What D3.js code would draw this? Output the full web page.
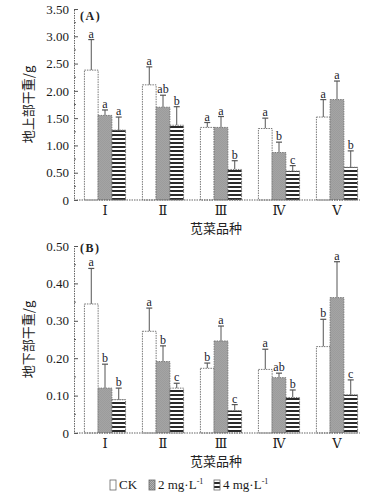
<!DOCTYPE html>
<html>
<head>
<meta charset="utf-8">
<script src="https://cdn.jsdelivr.net/npm/d3@7"></script>
<style>
  body { margin: 0; background: #fff; }
  svg { display: block; }
</style>
</head>
<body>
<div id="graph"></div>
<script>
const width = 375
const height = 493

// data
const groups = ["Ⅰ", "Ⅱ", "Ⅲ", "Ⅳ", "Ⅴ"]
const series = ["CK", "2 mg", "4 mg"]

const shootMean = [
    [2.38, 1.55, 1.28],
    [2.11, 1.70, 1.37],
    [1.33, 1.33, 0.56],
    [1.31, 0.87, 0.53],
    [1.52, 1.84, 0.60]
]
const shootErr = [
    [0.56, 0.10, 0.24],
    [0.33, 0.22, 0.34],
    [0.09, 0.20, 0.16],
    [0.19, 0.19, 0.10],
    [0.32, 0.34, 0.30]
]
const shootLetters = [
    ["a", "a", "a"],
    ["a", "ab", "b"],
    ["a", "a", "b"],
    ["a", "b", "c"],
    ["a", "a", "b"]
]

const rootMean = [
    [0.345, 0.120, 0.089],
    [0.272, 0.191, 0.120],
    [0.173, 0.246, 0.060],
    [0.170, 0.148, 0.095],
    [0.231, 0.362, 0.102]
]
const rootErr = [
    [0.095, 0.064, 0.031],
    [0.062, 0.042, 0.013],
    [0.014, 0.040, 0.016],
    [0.054, 0.012, 0.020],
    [0.073, 0.096, 0.040]
]
const rootLetters = [
    ["a", "b", "b"],
    ["a", "b", "c"],
    ["b", "a", "c"],
    ["a", "ab", "b"],
    ["b", "a", "c"]
]

const legendLabels = ["CK", "2 mg·L", "4 mg·L"]

const serif = "'Liberation Serif', 'DejaVu Serif', serif"
const cjk = "'Noto Sans CJK SC', sans-serif"

const svg = d3.select("#graph").append("svg")
    .attr("width", width)
    .attr("height", height)

// patterns
const defs = svg.append("defs")

const hatch = defs.append("pattern")
    .attr("id", "hatch")
    .attr("width", 2)
    .attr("height", 2)
    .attr("patternUnits", "userSpaceOnUse")
hatch.append("rect").attr("width", 2).attr("height", 2).attr("fill", "#b4b4b4")
hatch.append("rect").attr("width", 1).attr("height", 1).attr("fill", "#8c8c8c")
hatch.append("rect").attr("x", 1).attr("y", 1).attr("width", 1).attr("height", 1).attr("fill", "#8c8c8c")

const stripes = defs.append("pattern")
    .attr("id", "stripes")
    .attr("width", 4)
    .attr("height", 4)
    .attr("patternUnits", "userSpaceOnUse")
stripes.append("rect").attr("width", 4).attr("height", 4).attr("fill", "#fff")
stripes.append("rect").attr("y", 2).attr("width", 4).attr("height", 2).attr("fill", "#2a2a2a")

const fills = ["#fff", "url(#hatch)", "url(#stripes)"]

const x = d3.scaleBand()
    .domain(groups)
    .range([76, 366])
    .paddingInner(0.29)
    .paddingOuter(0.145)

const xs = d3.scaleBand()
    .domain(series)
    .range([0, x.bandwidth()])

function panel(opt) {
    const y = d3.scaleLinear()
        .domain([0, opt.max])
        .range([opt.bottom, opt.top])

    const g = svg.append("g")

    // bars
    const grp = g.selectAll(".grp")
        .data(groups)
        .join("g")
        .attr("transform", d => `translate(${x(d)},0)`)

    grp.each(function(gname, gi) {
        const sel = d3.select(this)
        series.forEach((s, si) => {
            const v = opt.mean[gi][si]
            const e = opt.err[gi][si]
            const cx = xs(s) + xs.bandwidth() / 2

            // error bar
            sel.append("line")
                .attr("x1", cx).attr("x2", cx)
                .attr("y1", y(v)).attr("y2", y(v + e))
                .attr("stroke", "#555")
                .attr("stroke-width", 1)
            sel.append("line")
                .attr("x1", cx - 3).attr("x2", cx + 3)
                .attr("y1", y(v + e)).attr("y2", y(v + e))
                .attr("stroke", "#555")
                .attr("stroke-width", 1.2)

            sel.append("rect")
                .attr("x", xs(s))
                .attr("y", y(v))
                .attr("width", xs.bandwidth())
                .attr("height", y(0) - y(v))
                .attr("fill", fills[si])
                .attr("stroke", "#777")
                .attr("stroke-width", 1)
                .attr("stroke-dasharray", "1.5,1")

            sel.append("text")
                .attr("x", cx)
                .attr("y", y(v + e) - 2)
                .attr("text-anchor", "middle")
                .attr("font-family", serif)
                .attr("font-size", 12)
                .attr("fill", "#1c1c2c")
                .text(opt.letters[gi][si])
        })
    })

    // y axis
    const yAxis = g.append("g")
        .attr("transform", `translate(74,0)`)
        .call(d3.axisLeft(y).tickValues(opt.ticks).tickSize(-4).tickPadding(5)
            .tickFormat(d => d === 0 ? "0" : d3.format(".2f")(d)))
    yAxis.selectAll(".tick line").attr("stroke", "#555")
    yAxis.select(".domain").attr("stroke", "#666").attr("stroke-dasharray", "1.5,1")
    yAxis.selectAll("text")
        .attr("font-family", serif)
        .attr("font-size", 13)
        .attr("fill", "#1a1a1a")

    // minor ticks
    g.append("g")
        .selectAll("line")
        .data(opt.minor)
        .join("line")
        .attr("x1", 74).attr("x2", 76)
        .attr("y1", d => y(d)).attr("y2", d => y(d))
        .attr("stroke", "#666")

    // x axis
    g.append("line")
        .attr("x1", 74).attr("x2", 360)
        .attr("y1", y(0)).attr("y2", y(0))
        .attr("stroke", "#666")
        .attr("stroke-width", 1.2)
        .attr("stroke-dasharray", "1.5,1")

    g.append("g")
        .selectAll("text")
        .data(groups)
        .join("text")
        .attr("x", d => x(d) + x.bandwidth() / 2)
        .attr("y", y(0) + 15)
        .attr("text-anchor", "middle")
        .attr("font-family", serif)
        .attr("font-size", 13)
        .attr("fill", "#1a1a1a")
        .text(d => d)

    // x title
    g.append("text")
        .attr("x", 216)
        .attr("y", y(0) + 33)
        .attr("text-anchor", "middle")
        .attr("font-family", cjk)
        .attr("font-size", 13)
        .attr("fill", "#222")
        .text("苋菜品种")

    // y title
    g.append("text")
        .attr("transform", `translate(33,${(opt.top + opt.bottom) / 2}) rotate(-90)`)
        .attr("text-anchor", "middle")
        .attr("font-family", cjk)
        .attr("font-size", 13)
        .attr("fill", "#222")
        .text(opt.ytitle)

    // panel label
    g.append("text")
        .attr("x", 80)
        .attr("y", opt.labelY)
        .attr("font-family", serif)
        .attr("font-size", 12)
        .attr("font-weight", "bold")
        .attr("letter-spacing", 1.5)
        .attr("fill", "#222")
        .text(opt.label)
}

panel({
    top: 9, bottom: 200, max: 3.5,
    ticks: [0, 0.5, 1, 1.5, 2, 2.5, 3, 3.5],
    minor: [0.25, 0.75, 1.25, 1.75, 2.25, 2.75, 3.25],
    mean: shootMean, err: shootErr, letters: shootLetters,
    ytitle: "地上部干重/g", label: "(A)", labelY: 20
})

panel({
    top: 246, bottom: 433, max: 0.5,
    ticks: [0, 0.1, 0.2, 0.3, 0.4, 0.5],
    minor: [0.05, 0.15, 0.25, 0.35, 0.45],
    mean: rootMean, err: rootErr, letters: rootLetters,
    ytitle: "地下部干重/g", label: "(B)", labelY: 252
})

// legend
const legendX = [110, 149, 214]
const leg = svg.append("g")
    .selectAll("g")
    .data(legendLabels)
    .join("g")
    .attr("transform", (d, i) => `translate(${legendX[i]},480)`)

leg.append("rect")
    .attr("width", 6)
    .attr("height", 10)
    .attr("fill", (d, i) => fills[i])
    .attr("stroke", "#666")
    .attr("stroke-width", 0.8)

const lt = leg.append("text")
    .attr("x", 9)
    .attr("y", 9)
    .attr("font-family", serif)
    .attr("font-size", 13)
    .attr("fill", "#1a1a1a")
    .text(d => d)
lt.filter((d, i) => i > 0)
    .append("tspan")
    .attr("dy", -5)
    .attr("font-size", 8)
    .text("-1")
</script>
</body>
</html>
